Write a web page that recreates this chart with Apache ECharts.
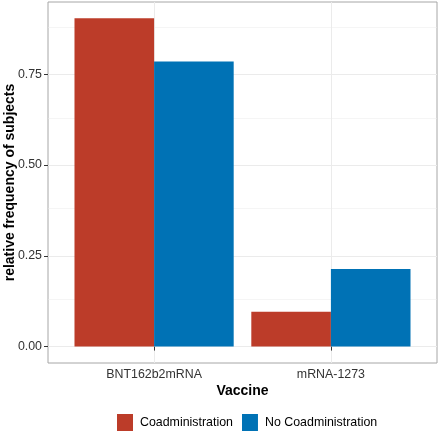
<!DOCTYPE html>
<html>
<head>
<meta charset="utf-8">
<script src="https://cdn.jsdelivr.net/npm/echarts@6/dist/echarts.min.js"></script>
<style>
html,body{margin:0;padding:0;background:#fff;}
#chart{width:440px;height:433px;}
</style>
</head>
<body>
<div id="chart"></div>
<script>
// ---- data ----
const categories = ['BNT162b2mRNA', 'mRNA-1273'];
const seriesNames = ['Coadministration', 'No Coadministration'];
const coadministration = [0.904, 0.096];
const noCoadministration = [0.785, 0.214];
const yTicks = [0, 0.25, 0.5, 0.75];
const yTickLabels = ['0.00', '0.25', '0.50', '0.75'];
const yMinorGrid = [0.125, 0.375, 0.625, 0.875];
const xTicks = [1, 2];

const colors = ['#BC3C29', '#0072B5'];
const font = 'Liberation Sans, Arial, Helvetica, sans-serif';

const chart = echarts.init(document.getElementById('chart'), null, {renderer: 'canvas'});

const toPairs = arr => arr.map((v, i) => [xTicks[i], v]);

const gridLines = [];
yTicks.forEach(v => gridLines.push({yAxis: v, lineStyle: {color: '#ebebeb', width: 1, type: 'solid'}}));
yMinorGrid.forEach(v => gridLines.push({yAxis: v, lineStyle: {color: '#ebebeb', width: 0.5, type: 'solid'}}));
xTicks.forEach(v => gridLines.push({xAxis: v, lineStyle: {color: '#ebebeb', width: 1, type: 'solid'}}));

const option = {
  animation: false,
  backgroundColor: '#fff',
  textStyle: {fontFamily: font},
  grid: {
    left: 48, right: 3, top: 2, bottom: 70,
    outerBoundsMode: 'none',
    containLabel: false,
    show: true, borderColor: '#a6a6a6', borderWidth: 1, backgroundColor: 'transparent'
  },
  xAxis: {
    type: 'value',
    min: 0.4, max: 2.6,
    name: 'Vaccine',
    nameLocation: 'middle',
    nameGap: 21,
    nameMoveOverlap: false,
    nameTextStyle: {fontSize: 14, fontWeight: 'bold', color: '#000', fontFamily: font},
    axisLine: {show: false},
    splitLine: {show: false},
    axisTick: {show: true, customValues: xTicks, length: 4, lineStyle: {color: '#333', width: 1}},
    axisLabel: {
      customValues: xTicks,
      margin: 6,
      fontSize: 12.4, color: '#333', fontFamily: font,
      formatter: v => categories[Math.round(v) - 1] || ''
    }
  },
  yAxis: {
    type: 'value',
    min: -0.0452, max: 0.949,
    name: 'relative frequency of subjects',
    nameLocation: 'middle',
    nameGap: 31,
    nameMoveOverlap: false,
    nameTextStyle: {fontSize: 14, fontWeight: 'bold', color: '#000', fontFamily: font},
    axisLine: {show: false},
    splitLine: {show: false},
    axisTick: {show: true, customValues: yTicks, length: 4, lineStyle: {color: '#333', width: 1}},
    axisLabel: {
      customValues: yTicks,
      margin: 6,
      fontSize: 12.4, color: '#333', fontFamily: font,
      formatter: v => {
        const i = yTicks.findIndex(t => Math.abs(t - v) < 1e-9);
        return i >= 0 ? yTickLabels[i] : '';
      }
    }
  },
  legend: {
    data: seriesNames,
    left: 117, bottom: 2,
    padding: 0,
    itemWidth: 16, itemHeight: 17, itemGap: 9,
    icon: 'rect',
    textStyle: {fontSize: 12.4, color: '#000', fontFamily: font, padding: [0, 0, 0, 2]}
  },
  series: [
    {
      type: 'line', data: [], z: 0, silent: true,
      markLine: {silent: true, z: 0, symbol: 'none', label: {show: false}, animation: false, data: gridLines}
    },
    {
      name: seriesNames[0], type: 'bar', data: toPairs(coadministration),
      barWidth: 79.6, barGap: '0%', z: 10,
      itemStyle: {color: colors[0]}
    },
    {
      name: seriesNames[1], type: 'bar', data: toPairs(noCoadministration),
      barWidth: 79.6, barGap: '0%', z: 10,
      itemStyle: {color: colors[1]}
    }
  ]
};
chart.setOption(option);
</script>
</body>
</html>
